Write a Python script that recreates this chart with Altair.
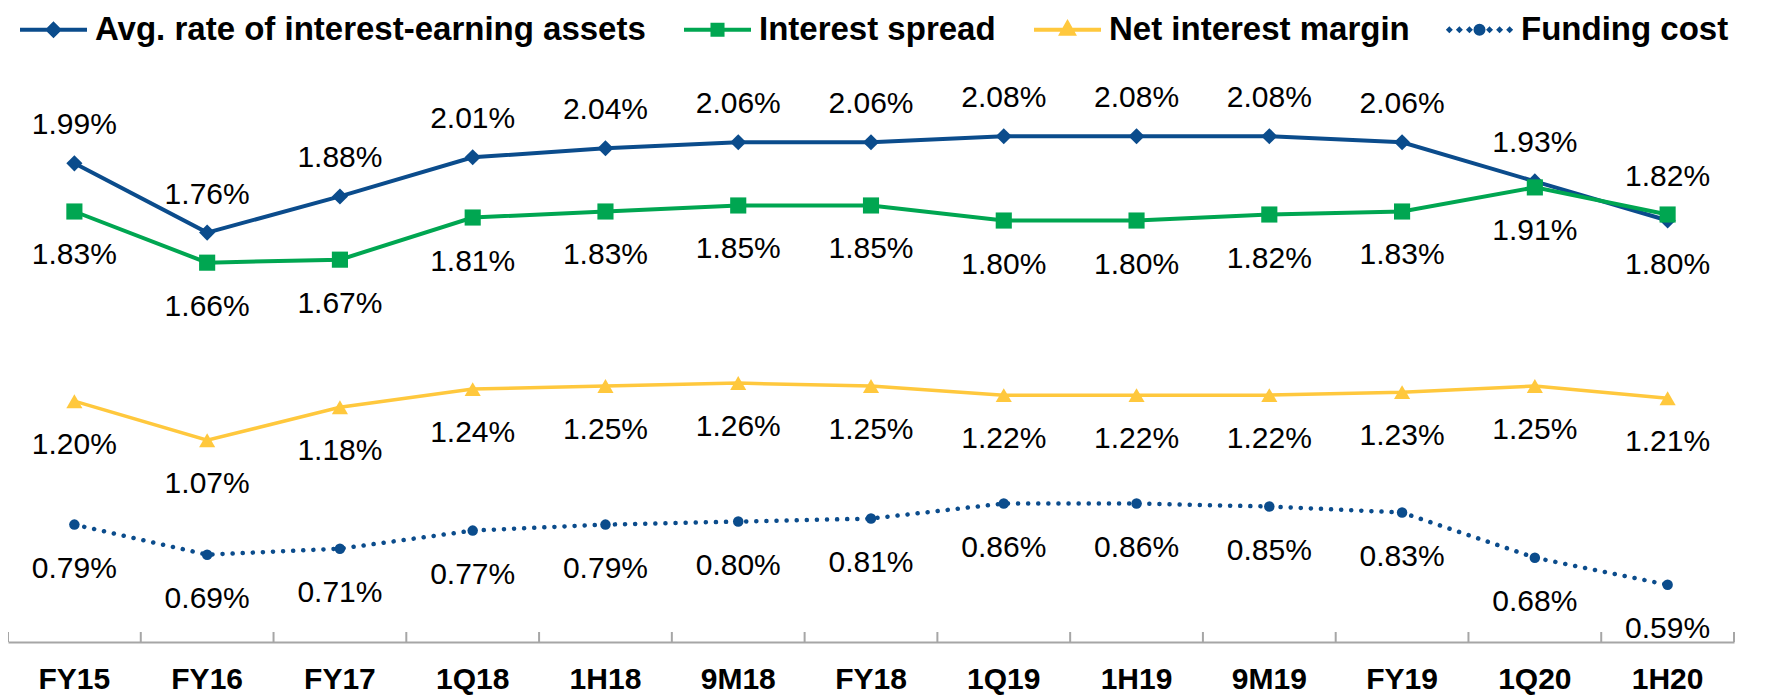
import altair as alt
import pandas as pd

cats = ["FY15", "FY16", "FY17", "1Q18", "1H18", "9M18", "FY18",
        "1Q19", "1H19", "9M19", "FY19", "1Q20", "1H20"]
series_names = ["Avg. rate of interest-earning assets", "Interest spread",
                "Net interest margin", "Funding cost"]

avg_rate = [1.99, 1.76, 1.88, 2.01, 2.04, 2.06, 2.06, 2.08, 2.08, 2.08, 2.06, 1.93, 1.80]
spread = [1.83, 1.66, 1.67, 1.81, 1.83, 1.85, 1.85, 1.80, 1.80, 1.82, 1.83, 1.91, 1.82]
nim = [1.20, 1.07, 1.18, 1.24, 1.25, 1.26, 1.25, 1.22, 1.22, 1.22, 1.23, 1.25, 1.21]
funding = [0.79, 0.69, 0.71, 0.77, 0.79, 0.80, 0.81, 0.86, 0.86, 0.85, 0.83, 0.68, 0.59]

avg_pos = ["above"] * 12 + ["below"]
spread_pos = ["below"] * 12 + ["above"]
nim_pos = ["below"] * 13
funding_pos = ["below"] * 13

colors = ["#0B4C8C", "#00A651", "#FFC83D", "#0B4C8C"]
shapes = ["diamond", "square", "triangle-up", "circle"]
sizes = [260, 260, 260, 110]
widths = [4, 4, 3.5, 4.5]
dashes = [None, None, None, [0.1, 10]]

rows = []
for name, vals, poss in zip(series_names, [avg_rate, spread, nim, funding],
                            [avg_pos, spread_pos, nim_pos, funding_pos]):
    for c, v, p in zip(cats, vals, poss):
        rows.append({"series": name, "cat": c, "value": v, "pos": p,
                     "label": f"{v:.2f}%"})
df = pd.DataFrame(rows)
cat_df = pd.DataFrame({"cat": cats})

W, H = 1726, 572
GRAY = "#A6A6A6"
FONT = "Liberation Sans"

x_enc = alt.X("cat:N", sort=cats,
              scale=alt.Scale(type="band", paddingInner=0, paddingOuter=0),
              axis=alt.Axis(title=None, labelAngle=0, ticks=False, bandPosition=0.5,
                            domainColor=GRAY, domainWidth=2,
                            labelFont=FONT, labelFontSize=30,
                            labelFontWeight="bold", labelColor="#000000",
                            labelPadding=22))
y_enc = alt.Y("value:Q", scale=alt.Scale(domain=[0.4, 2.3], nice=False, zero=False),
              axis=None)

layers = []

for name, col, shp, sz, sw, dash in zip(series_names, colors, shapes, sizes, widths, dashes):
    base = alt.Chart(df).transform_filter(alt.datum.series == name)
    line_kw = dict(color=col, strokeWidth=sw)
    if dash is not None:
        line_kw.update(strokeDash=dash, strokeCap="round")
    layers.append(base.mark_line(**line_kw).encode(x=x_enc, y=y_enc))
    layers.append(base.mark_point(shape=shp, filled=True, size=sz, color=col,
                                  opacity=1).encode(x=x_enc, y=y_enc))
    layers.append(base.transform_filter(alt.datum.pos == "above").mark_text(
        dy=-29, baseline="alphabetic", font=FONT, fontSize=30, color="#000000"
    ).encode(x=x_enc, y=y_enc, text="label:N"))
    layers.append(base.transform_filter(alt.datum.pos == "below").mark_text(
        dy=53, baseline="alphabetic", font=FONT, fontSize=30, color="#000000"
    ).encode(x=x_enc, y=y_enc, text="label:N"))

# upward tick marks at category boundaries
layers.append(alt.Chart(cat_df).mark_rule(color=GRAY, strokeWidth=2).encode(
    x=alt.X("cat:N", sort=cats, bandPosition=0), y=alt.value(H), y2=alt.value(H - 10)))
layers.append(alt.Chart(cat_df.head(1)).mark_rule(color=GRAY, strokeWidth=2).encode(
    x=alt.value(W), y=alt.value(H), y2=alt.value(H - 10)))


def dot(cx, r):
    return f"M{cx},{-r}L{cx + r},0L{cx},{r}L{cx - r},0Z"


def circ(cx, r):
    return f"M{cx - r},0A{r},{r} 0 1,1 {cx + r},0A{r},{r} 0 1,1 {cx - r},0Z"


legend_paths = [
    "M-1,0L1,0M0,-0.17L0.17,0L0,0.17L-0.17,0Z",
    "M-1,0L1,0M-0.15,-0.15L0.15,-0.15L0.15,0.15L-0.15,0.15Z",
    "M-1,0L1,0M0,-0.2L0.18,0.12L-0.18,0.12Z",
    "".join(dot(c, 0.02) for c in [-0.9, -0.6, -0.3, 0.3, 0.6, 0.9]) + circ(0, 0.12),
]
SYM = 4489
leg = alt.Legend(title=None, orient="none", direction="horizontal", columns=4,
                 legendX=10, legendY=-76, padding=0, columnPadding=30,
                 labelFont=FONT, labelFontSize=33, labelFontWeight="bold",
                 labelColor="#000000", labelLimit=1000, labelOffset=6,
                 symbolSize=SYM, symbolStrokeWidth=4, symbolOpacity=1)
legend_layer = alt.Chart(pd.DataFrame({"series": series_names})).transform_filter(
    alt.datum.series == "__none__"
).mark_point(filled=True, opacity=1, strokeWidth=4, size=SYM).encode(
    fill=alt.Fill("series:N", scale=alt.Scale(domain=series_names, range=colors), legend=leg),
    stroke=alt.Stroke("series:N", scale=alt.Scale(domain=series_names, range=colors), legend=leg),
    shape=alt.Shape("series:N", scale=alt.Scale(domain=series_names, range=legend_paths), legend=leg),
)
layers.append(legend_layer)

chart = alt.layer(*layers).properties(
    width=W, height=H,
    autosize=alt.AutoSizeParams(type="none"),
    padding={"left": 0, "top": 62, "right": 18, "bottom": 58},
    background="white",
).configure_view(stroke=None).configure_legend(symbolStrokeWidth=4)

chart.save("out.html", embed_options={"renderer": "svg", "actions": False})
